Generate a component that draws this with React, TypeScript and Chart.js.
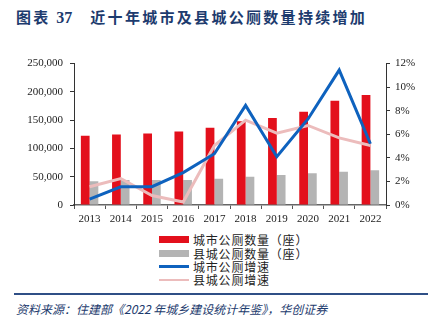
import React, { useEffect, useRef } from "react";
import { Chart, registerables } from "chart.js";

Chart.register(...registerables);

const years = ["2013", "2014", "2015", "2016", "2017", "2018", "2019", "2020", "2021", "2022"];
const cityToilets = [122500, 124500, 126500, 130000, 136500, 148000, 154000, 165000, 184500, 194500];
const countyToilets = [42000, 44000, 44000, 44000, 46500, 50000, 53000, 56000, 59000, 61500];
const cityGrowth = [0.5, 1.55, 1.55, 2.75, 4.35, 8.45, 4.1, 7.3, 11.45, 5.2];
const countyGrowth = [1.55, 2.25, 0.8, 0.25, 5.05, 7.2, 6.1, 6.75, 5.7, 5.05];
const leftTicks = [0, 50000, 100000, 150000, 200000, 250000];
const rightTicks = [0, 2, 4, 6, 8, 10, 12];

const seriesNames = ["城市公厕数量（座）", "县城公厕数量（座）", "城市公厕增速", "县城公厕增速"];
const RED = "#e3101c";
const GRAY = "#b4b4b4";
const BLUE = "#0e62be";
const PINK = "#ecbcbc";
const NAVY = "#1d3b6e";

export default function App() {
  const ref = useRef<HTMLCanvasElement | null>(null);

  useEffect(() => {
    if (!ref.current) return;
    const tickFont = { family: "'Liberation Serif', 'Times New Roman', serif", size: 11 };
    const chart = new Chart(ref.current, {
      type: "bar",
      data: {
        labels: years,
        datasets: [
          {
            type: "line",
            label: seriesNames[2],
            data: cityGrowth,
            yAxisID: "y1",
            borderColor: BLUE,
            backgroundColor: BLUE,
            borderWidth: 3,
            pointRadius: 0,
            tension: 0,
            order: 0,
          },
          {
            type: "line",
            label: seriesNames[3],
            data: countyGrowth,
            yAxisID: "y1",
            borderColor: PINK,
            backgroundColor: PINK,
            borderWidth: 3,
            pointRadius: 0,
            tension: 0,
            order: 1,
          },
          {
            type: "bar",
            label: seriesNames[0],
            data: cityToilets,
            yAxisID: "y",
            backgroundColor: RED,
            barPercentage: 1,
            categoryPercentage: 0.56,
            order: 2,
          },
          {
            type: "bar",
            label: seriesNames[1],
            data: countyToilets,
            yAxisID: "y",
            backgroundColor: GRAY,
            barPercentage: 1,
            categoryPercentage: 0.56,
            order: 3,
          },
        ],
      },
      options: {
        animation: false,
        responsive: false,
        maintainAspectRatio: false,
        layout: { padding: { top: 13, left: 0, right: 0, bottom: 0 } },
        plugins: {
          legend: { display: false },
          tooltip: { enabled: false },
        },
        scales: {
          x: {
            offset: true,
            grid: {
              offset: true,
              drawOnChartArea: false,
              drawTicks: true,
              tickLength: 4,
              tickColor: "#555",
            },
            border: { display: true, color: "#666", width: 1.5 },
            ticks: { color: "#222", font: tickFont, padding: 4, maxRotation: 0 },
            afterFit: (s: any) => {
              s.height = 25;
            },
          },
          y: {
            position: "left",
            min: 0,
            max: 250000,
            afterBuildTicks: (s: any) => {
              s.ticks = leftTicks.map((v) => ({ value: v }));
            },
            grid: { drawOnChartArea: false, drawTicks: true, tickLength: 4, tickColor: "#333" },
            border: { display: true, color: "#333", width: 1 },
            ticks: {
              color: "#222",
              font: tickFont,
              padding: 7,
              callback: (v: any) => Number(v).toLocaleString("en-US"),
            },
            afterFit: (s: any) => {
              s.width = 74;
            },
          },
          y1: {
            position: "right",
            min: 0,
            max: 12,
            afterBuildTicks: (s: any) => {
              s.ticks = rightTicks.map((v) => ({ value: v }));
            },
            grid: { drawOnChartArea: false, drawTicks: true, tickLength: 4, tickColor: "#333" },
            border: { display: true, color: "#333", width: 1 },
            ticks: {
              color: "#222",
              font: tickFont,
              padding: 5,
              callback: (v: any) => v + "%",
            },
            afterFit: (s: any) => {
              s.width = 53;
            },
          },
        },
      },
    });
    return () => chart.destroy();
  }, []);

  const legendItems = [
    { name: seriesNames[0], color: RED, h: 7 },
    { name: seriesNames[1], color: GRAY, h: 7 },
    { name: seriesNames[2], color: BLUE, h: 2.5 },
    { name: seriesNames[3], color: PINK, h: 2.5 },
  ];

  return (
    <div
      style={{
        position: "fixed",
        left: 0,
        top: 0,
        width: 439,
        height: 324,
        background: "#fff",
        overflow: "hidden",
        fontFamily: "'Noto Sans CJK SC', sans-serif",
      }}
    >
      <div
        style={{
          position: "absolute",
          left: 16,
          top: 7,
          fontSize: 15,
          fontWeight: 700,
          color: NAVY,
          letterSpacing: 2.3,
          whiteSpace: "nowrap",
          lineHeight: "20px",
        }}
      >
        <span>图表 </span>
        <span style={{ fontFamily: "'Liberation Serif', serif", fontSize: 16, letterSpacing: 0 }}>37</span>
        <span style={{ display: "inline-block", width: 18 }} />
        <span>近十年城市及县城公厕数量持续增加</span>
      </div>
      <canvas
        ref={ref}
        width={439}
        height={180}
        style={{ position: "absolute", left: 0, top: 50, width: 439, height: 180 }}
      />
      <div style={{ position: "absolute", left: 159, top: 233 }}>
        {legendItems.map((it) => (
          <div
            key={it.name}
            style={{ display: "flex", alignItems: "center", height: 13.4, whiteSpace: "nowrap" }}
          >
            <span
              style={{
                display: "inline-block",
                width: 30,
                height: it.h,
                background: it.color,
                marginRight: 4,
              }}
            />
            <span style={{ fontSize: 12, color: "#222", lineHeight: "13px", letterSpacing: 0.8 }}>{it.name}</span>
          </div>
        ))}
      </div>
      <div
        style={{
          position: "absolute",
          left: 14,
          top: 293,
          width: 414,
          height: 2,
          background: "#2f4f86",
        }}
      />
      <div
        style={{
          position: "absolute",
          left: 16,
          top: 301,
          fontSize: 12,
          fontStyle: "italic",
          color: NAVY,
          whiteSpace: "nowrap",
          lineHeight: "16px",
          letterSpacing: 0,
        }}
      >
        资料来源：住建部《2022 年城乡建设统计年鉴》，华创证券
      </div>
    </div>
  );
}
